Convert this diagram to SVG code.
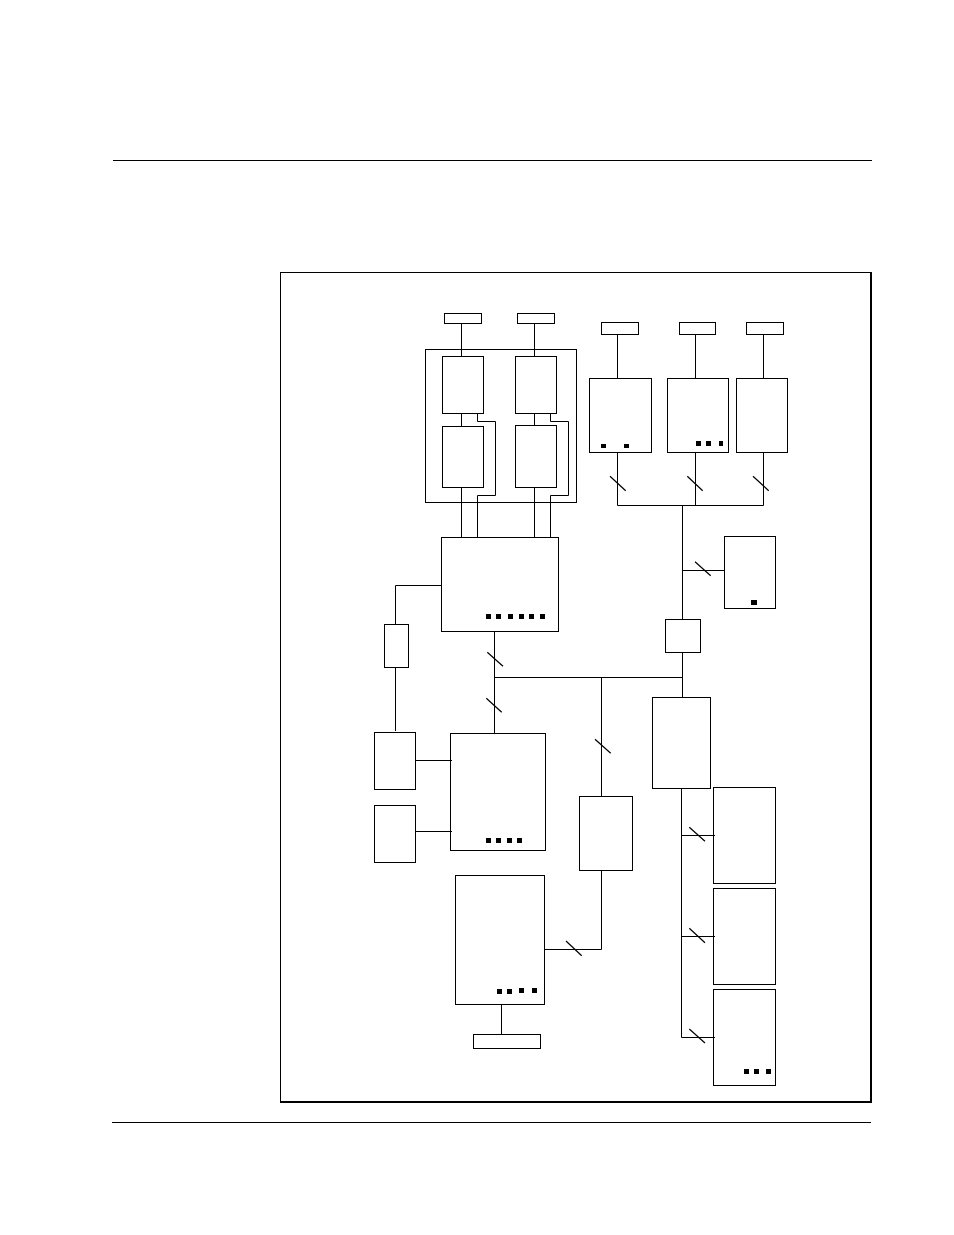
<svg xmlns="http://www.w3.org/2000/svg" width="954" height="1235" viewBox="0 0 954 1235">
<style>
rect.b{fill:#fff;stroke:#000;stroke-width:1}
rect.s{fill:#000;stroke:none}
#connectors path{fill:none;stroke:#000;stroke-width:1}
#connectors path.t{stroke:#000;stroke-width:1.2}
</style>
<rect width="954" height="1235" fill="#fff"/>
<g id="page-rules"><rect class="s" x="113" y="160" width="759" height="1"/><rect class="s" x="112" y="1122" width="759" height="1"/></g>
<g id="frame"><rect class="s" x="280" y="272" width="592" height="1"/><rect class="s" x="280" y="272" width="1" height="831"/><rect class="s" x="870" y="272" width="2" height="831"/><rect class="s" x="280" y="1101" width="592" height="2"/></g>
<g id="n-group"><rect class="b" x="425.5" y="349.5" width="151" height="153"/></g>
<g id="n-a0"><rect class="b" x="444.5" y="313.5" width="37" height="10"/></g>
<g id="n-a1"><rect class="b" x="517.5" y="313.5" width="37" height="10"/></g>
<g id="n-a2"><rect class="b" x="442.5" y="356.5" width="41" height="57"/></g>
<g id="n-a3"><rect class="b" x="442.5" y="426.5" width="41" height="61"/></g>
<g id="n-a4"><rect class="b" x="515.5" y="356.5" width="41" height="57"/></g>
<g id="n-a5"><rect class="b" x="515.5" y="425.5" width="41" height="62"/></g>
<g id="n-hub"><rect class="b" x="441.5" y="537.5" width="117" height="94"/><rect class="s" x="486" y="614" width="5" height="5"/><rect class="s" x="496" y="614" width="5" height="5"/><rect class="s" x="508" y="614" width="5" height="5"/><rect class="s" x="519" y="614" width="5" height="5"/><rect class="s" x="529" y="614" width="5" height="5"/><rect class="s" x="540" y="614" width="5" height="5"/></g>
<g id="n-b0"><rect class="b" x="601.5" y="322.5" width="37" height="12"/></g>
<g id="n-b1"><rect class="b" x="679.5" y="322.5" width="36" height="12"/></g>
<g id="n-b2"><rect class="b" x="746.5" y="322.5" width="37" height="12"/></g>
<g id="n-c0"><rect class="b" x="589.5" y="378.5" width="62" height="74"/><rect class="s" x="601" y="444" width="5" height="4"/><rect class="s" x="624" y="444" width="5" height="4"/></g>
<g id="n-c1"><rect class="b" x="667.5" y="378.5" width="61" height="74"/><rect class="s" x="696" y="441" width="5" height="5"/><rect class="s" x="706" y="441" width="5" height="5"/><rect class="s" x="719" y="441" width="4" height="5"/></g>
<g id="n-c2"><rect class="b" x="736.5" y="378.5" width="51" height="74"/></g>
<g id="n-d"><rect class="b" x="724.5" y="536.5" width="51" height="72"/><rect class="s" x="751" y="600" width="6" height="5"/></g>
<g id="n-e"><rect class="b" x="665.5" y="619.5" width="35" height="33"/></g>
<g id="n-f"><rect class="b" x="384.5" y="624.5" width="24" height="43"/></g>
<g id="n-g"><rect class="b" x="652.5" y="697.5" width="58" height="91"/></g>
<g id="n-h0"><rect class="b" x="374.5" y="732.5" width="41" height="57"/></g>
<g id="n-h1"><rect class="b" x="374.5" y="805.5" width="41" height="57"/></g>
<g id="n-i"><rect class="b" x="450.5" y="733.5" width="95" height="117"/><rect class="s" x="486" y="838" width="5" height="5"/><rect class="s" x="496" y="838" width="5" height="5"/><rect class="s" x="507" y="838" width="5" height="5"/><rect class="s" x="517" y="838" width="5" height="5"/></g>
<g id="n-j"><rect class="b" x="579.5" y="796.5" width="53" height="74"/></g>
<g id="n-k"><rect class="b" x="455.5" y="875.5" width="89" height="129"/><rect class="s" x="497" y="989" width="5" height="5"/><rect class="s" x="507" y="989" width="5" height="5"/><rect class="s" x="519" y="988" width="5" height="5"/><rect class="s" x="532" y="988" width="5" height="5"/></g>
<g id="n-l"><rect class="b" x="473.5" y="1034.5" width="67" height="14"/></g>
<g id="n-m0"><rect class="b" x="713.5" y="787.5" width="62" height="96"/></g>
<g id="n-m1"><rect class="b" x="713.5" y="888.5" width="62" height="96"/></g>
<g id="n-m2"><rect class="b" x="713.5" y="989.5" width="62" height="96"/><rect class="s" x="744" y="1069" width="5" height="5"/><rect class="s" x="754" y="1069" width="5" height="5"/><rect class="s" x="766" y="1069" width="5" height="5"/></g>
<g id="connectors">
<path d="M461.5 323.5V356.5M534.5 323.5V356.5"/>
<path d="M461.5 413.5V427M534.5 413.5V426"/>
<path d="M461.5 487.5V537.5M534.5 487.5V537.5"/>
<path d="M477.5 413.5V421.5H495.5V495.5H477.5V537.5"/>
<path d="M550.5 413.5V421.5H568.5V495.5H550.5V537.5"/>
<path d="M617.5 334.5V378.5M695.5 334.5V378.5M763.5 334.5V378.5"/>
<path d="M617.5 452.5V505.5H763.5V452.5M695.5 452.5V505.5"/>
<path d="M682.5 505.5V619.5M682.5 570.5H724.5M682.5 652.5V697.5"/>
<path d="M441.5 585.5H395.5V624.5M395.5 667.5V731"/>
<path d="M494.5 631.5V733.5M494.5 677.5H682.5M601.5 677.5V796.5"/>
<path d="M415.5 760.5H452M415.5 831.5H452"/>
<path d="M601.5 870.5V949.5H544.5"/>
<path d="M501.5 1004.5V1035"/>
<path d="M681.5 788.5V1037.5H715M681.5 835.5H715M681.5 936.5H715"/>
<path class="t" d="M610 476.3L625.7 490.7M687.3 476.3L702.7 490.7M753 476.3L768.7 490.7M695 561.7L710.7 575.7M487.3 652.3L503 666.3M486.3 698.3L501.7 712.3M595 739.3L610.7 753.3M566 941L581.7 955.7M689.3 827.3L705 841.3M689.3 928.3L705 942.7M689.3 1029L705 1043"/>
</g>
</svg>
